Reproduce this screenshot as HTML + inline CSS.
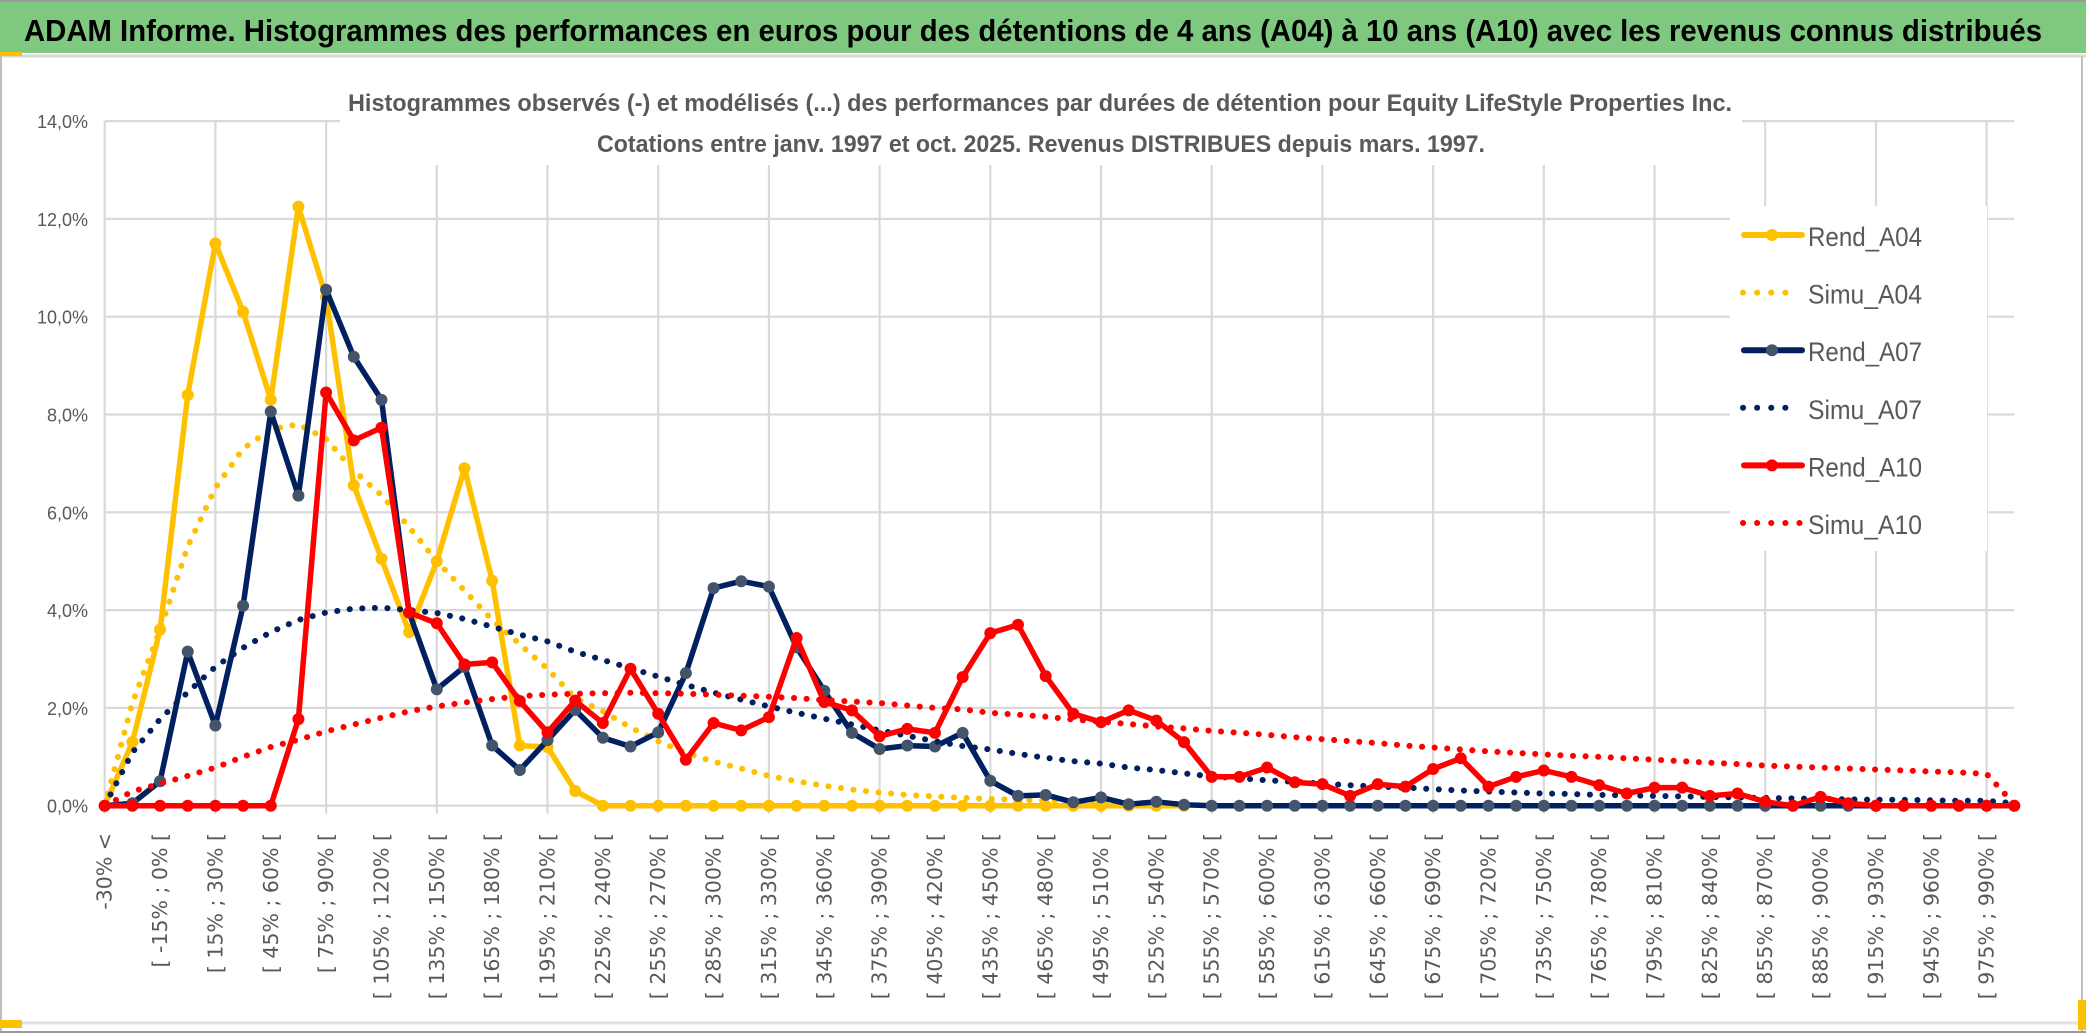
<!DOCTYPE html>
<html><head><meta charset="utf-8"><title>ADAM Informe – Histogrammes</title>
<style>
html,body{margin:0;padding:0;background:#fff;}
body{width:2086px;height:1033px;overflow:hidden;}
svg{display:block;}
</style></head>
<body>
<svg id="chart" width="2086" height="1033" viewBox="0 0 2086 1033" xmlns="http://www.w3.org/2000/svg">
  <rect x="0" y="0" width="2086" height="1033" fill="#ffffff"/>
  <rect x="0" y="2" width="2086" height="51" fill="#7EC87F"/>
  <line x1="0" y1="1" x2="2086" y2="1" stroke="#9a9a9a" stroke-width="2"/>
  <line x1="0" y1="56" x2="2086" y2="56" stroke="#d9d9d9" stroke-width="3"/>
  <text x="24" y="41" font-family="Liberation Sans, sans-serif" font-weight="bold" font-size="31" fill="#000" textLength="2018" lengthAdjust="spacingAndGlyphs">ADAM Informe. Histogrammes des performances en euros pour des détentions de 4 ans (A04) à 10 ans (A10) avec les revenus connus distribués</text>
  <rect x="0" y="52" width="22" height="4" fill="#FFC000"/>
  <line x1="1" y1="56" x2="1" y2="1033" stroke="#bfbfbf" stroke-width="2"/>
  <line x1="2082" y1="56" x2="2082" y2="1033" stroke="#bfbfbf" stroke-width="2"/>
  <line x1="0" y1="1023" x2="2086" y2="1023" stroke="#e0e0e0" stroke-width="3"/>
  <line x1="0" y1="1032" x2="2086" y2="1032" stroke="#9a9a9a" stroke-width="2"/>
  <rect x="0" y="1020" width="22" height="8" fill="#FFC000"/>
  <rect x="2078" y="1000" width="8" height="30" fill="#FFC000"/>
  <g id="grid"></g>
  <g id="yaxis"></g>
  <g id="xaxis"></g>
  <g id="series"></g>
  <rect x="340" y="60" width="1402" height="105" fill="#ffffff"/>
  <text x="348" y="111" font-family="Liberation Sans, sans-serif" font-weight="bold" font-size="24" fill="#595959" textLength="1384" lengthAdjust="spacingAndGlyphs">Histogrammes observés (-) et modélisés (...) des performances par durées de détention pour Equity LifeStyle Properties Inc.</text>
  <text x="597" y="152" font-family="Liberation Sans, sans-serif" font-weight="bold" font-size="24" fill="#595959" textLength="888" lengthAdjust="spacingAndGlyphs">Cotations entre janv. 1997 et oct. 2025. Revenus DISTRIBUES depuis mars. 1997.</text>
  <g id="legend"></g>
</svg>
<script>
const categories = ["-30% <","[ -30% ; -15% [","[ -15% ; 0% [","[ 0% ; 15% [","[ 15% ; 30% [","[ 30% ; 45% [","[ 45% ; 60% [","[ 60% ; 75% [","[ 75% ; 90% [","[ 90% ; 105% [",
"[ 105% ; 120% [","[ 120% ; 135% [","[ 135% ; 150% [","[ 150% ; 165% [","[ 165% ; 180% [","[ 180% ; 195% [","[ 195% ; 210% [","[ 210% ; 225% [","[ 225% ; 240% [","[ 240% ; 255% [",
"[ 255% ; 270% [","[ 270% ; 285% [","[ 285% ; 300% [","[ 300% ; 315% [","[ 315% ; 330% [","[ 330% ; 345% [","[ 345% ; 360% [","[ 360% ; 375% [","[ 375% ; 390% [","[ 390% ; 405% [",
"[ 405% ; 420% [","[ 420% ; 435% [","[ 435% ; 450% [","[ 450% ; 465% [","[ 465% ; 480% [","[ 480% ; 495% [","[ 495% ; 510% [","[ 510% ; 525% [","[ 525% ; 540% [","[ 540% ; 555% [",
"[ 555% ; 570% [","[ 570% ; 585% [","[ 585% ; 600% [","[ 600% ; 615% [","[ 615% ; 630% [","[ 630% ; 645% [","[ 645% ; 660% [","[ 660% ; 675% [","[ 675% ; 690% [","[ 690% ; 705% [",
"[ 705% ; 720% [","[ 720% ; 735% [","[ 735% ; 750% [","[ 750% ; 765% [","[ 765% ; 780% [","[ 780% ; 795% [","[ 795% ; 810% [","[ 810% ; 825% [","[ 825% ; 840% [","[ 840% ; 855% [",
"[ 855% ; 870% [","[ 870% ; 885% [","[ 885% ; 900% [","[ 900% ; 915% [","[ 915% ; 930% [","[ 930% ; 945% [","[ 945% ; 960% [","[ 960% ; 975% [","[ 975% ; 990% [","> 990%"];
const yTicks = [0,2,4,6,8,10,12,14];
const yTickLabels = ["0,0%","2,0%","4,0%","6,0%","8,0%","10,0%","12,0%","14,0%"];
const rendA04 = [0,1.3,3.6,8.4,11.5,10.1,8.3,12.25,10.4,6.55,5.05,3.55,5.0,6.9,4.6,1.23,1.2,0.3,0,0,0,0,0,0,0,0,0,0,0,0,0,0,0,0,0,0,0,0,0,0];
const simuA04 = [0,2.1,3.6,5.3,6.5,7.3,7.7,7.8,7.5,6.85,6.35,5.7,5.0,4.4,3.8,3.3,2.8,2.2,1.93,1.6,1.32,1.08,0.9,0.76,0.61,0.5,0.41,0.33,0.27,0.22,0.19,0.16,0.14,0.12,0.1,0.08,0.07,0.06,0.05,0.04];
const rendA07 = [0,0.05,0.5,3.15,1.64,4.09,8.06,6.34,10.55,9.18,8.3,3.95,2.38,2.84,1.23,0.73,1.34,1.96,1.39,1.21,1.5,2.71,4.45,4.59,4.48,3.24,2.35,1.49,1.16,1.23,1.21,1.49,0.51,0.2,0.22,0.07,0.17,0.03,0.08,0.02,0,0,0,0,0,0,0,0,0,0,0,0,0,0,0,0,0,0,0,0,0,0,0,0,0,0,0,0,0,0];
const simuA07 = [0,1.09,1.77,2.32,2.84,3.23,3.55,3.8,3.95,4.03,4.05,4.0,3.94,3.82,3.66,3.5,3.36,3.15,2.98,2.81,2.64,2.47,2.31,2.17,2.03,1.9,1.78,1.66,1.54,1.43,1.32,1.22,1.15,1.06,0.98,0.91,0.86,0.78,0.73,0.66,0.6,0.56,0.52,0.49,0.45,0.42,0.39,0.37,0.34,0.31,0.29,0.27,0.25,0.24,0.22,0.21,0.2,0.19,0.18,0.17,0.16,0.15,0.14,0.13,0.12,0.12,0.11,0.1,0.1,0.05];
const rendA10 = [0,0,0,0,0,0,0,1.77,8.45,7.47,7.73,3.95,3.73,2.89,2.93,2.14,1.5,2.15,1.69,2.8,1.88,0.94,1.69,1.54,1.81,3.43,2.12,1.95,1.42,1.57,1.49,2.63,3.53,3.7,2.65,1.88,1.71,1.95,1.74,1.3,0.59,0.59,0.78,0.48,0.44,0.2,0.44,0.39,0.75,0.97,0.39,0.59,0.72,0.59,0.42,0.25,0.37,0.37,0.2,0.25,0.08,0,0.18,0.05,0,0,0,0,0,0];
const simuA10 = [0,0.29,0.45,0.61,0.78,1.0,1.2,1.35,1.52,1.66,1.8,1.93,2.03,2.11,2.18,2.24,2.27,2.29,2.3,2.31,2.3,2.29,2.27,2.25,2.23,2.2,2.16,2.13,2.1,2.05,2.0,1.97,1.9,1.86,1.82,1.76,1.72,1.67,1.62,1.58,1.53,1.49,1.45,1.4,1.36,1.32,1.28,1.23,1.19,1.15,1.11,1.08,1.05,1.02,1.0,0.97,0.94,0.91,0.88,0.85,0.82,0.8,0.78,0.76,0.74,0.72,0.7,0.68,0.65,0.03];
const seriesNames = ["Rend_A04","Simu_A04","Rend_A07","Simu_A07","Rend_A10","Simu_A10"];

const NS = "http://www.w3.org/2000/svg";
const X0 = 104.7, X1 = 2014.3, Y0 = 805.7, YPER = 48.9;
function xOf(i){ return X0 + i * (X1 - X0) / (categories.length - 1); }
function yOf(v){ return Y0 - v * YPER; }
function mk(tag, attrs, parent){ const e = document.createElementNS(NS, tag); for (const k in attrs) e.setAttribute(k, attrs[k]); parent.appendChild(e); return e; }

const grid = document.getElementById('grid');
for (let k = 0; k < yTicks.length; k++) {
  const l = mk('line', {x1: X0, x2: X1, y1: yOf(yTicks[k]), y2: yOf(yTicks[k]), stroke: '#d9d9d9', 'stroke-width': 2.2}, grid);
  
  
}
for (let i = 0; i < categories.length; i += 4) {
  const l = mk('line', {x1: xOf(i), x2: xOf(i), y1: yOf(14), y2: Y0 + 8, stroke: '#d9d9d9', 'stroke-width': 2.2}, grid);
  
  
}
const yax = document.getElementById('yaxis');
for (let k = 0; k < yTicks.length; k++) {
  const t = mk('text', {x: 88, y: yOf(yTicks[k]) + 7, 'text-anchor': 'end', 'font-family': 'Liberation Sans, sans-serif', 'font-size': 18, fill: '#595959'}, yax);
  t.textContent = yTickLabels[k];
  
  
}
const xax = document.getElementById('xaxis');
for (let i = 0; i < categories.length; i += 2) {
  const x = xOf(i) + 7, y = 833;
  const t = mk('text', {x: x, y: y, 'text-anchor': 'end', transform: 'rotate(-90 ' + x + ' ' + y + ')', 'font-family': 'DejaVu Sans, sans-serif', 'font-size': 20.5, fill: '#595959'}, xax);
  t.textContent = categories[i];
  
  
}

const ser = document.getElementById('series');
function pts(arr){ return arr.map((v, i) => xOf(i).toFixed(1) + ',' + yOf(v).toFixed(1)).join(' '); }
function drawRend(arr, color, mcolor, name){
  const g = mk('g', {}, ser);
  
  
  mk('polyline', {points: pts(arr), fill: 'none', stroke: color, 'stroke-width': 5.5, 'stroke-linejoin': 'round', 'stroke-linecap': 'round'}, g);
  arr.forEach((v, i) => {
    const c = mk('circle', {cx: xOf(i), cy: yOf(v), r: 6, fill: mcolor}, g);
    
    
  });
}
function drawSimu(arr, color, name){
  const g = mk('g', {}, ser);
  
  
  mk('polyline', {points: pts(arr), fill: 'none', stroke: color, 'stroke-width': 6, 'stroke-dasharray': '0.1 12.5', 'stroke-linecap': 'round', 'stroke-linejoin': 'round'}, g);
}
drawRend(rendA04, '#FFC000', '#FFC000', 'series-rend-a04');
drawSimu(simuA04, '#FFC000', 'series-simu-a04');
drawRend(rendA07, '#002060', '#44546A', 'series-rend-a07');
drawSimu(simuA07, '#002060', 'series-simu-a07');
drawRend(rendA10, '#FF0000', '#FF0000', 'series-rend-a10');
drawSimu(simuA10, '#FF0000', 'series-simu-a10');

const leg = document.getElementById('legend');
mk('rect', {x: 1730, y: 206, width: 257, height: 345, fill: '#ffffff'}, leg);
const legColors = ['#FFC000','#FFC000','#002060','#002060','#FF0000','#FF0000'];
const legMarker = ['#FFC000','','#44546A','','#FF0000',''];
for (let k = 0; k < seriesNames.length; k++) {
  const y = 235 + k * 57.6;
  const g = mk('g', {}, leg);
  
  
  if (k % 2 === 0) {
    mk('line', {x1: 1744, x2: 1802, y1: y, y2: y, stroke: legColors[k], 'stroke-width': 6, 'stroke-linecap': 'round'}, g);
    mk('circle', {cx: 1772, cy: y, r: 6, fill: legMarker[k]}, g);
  } else {
    mk('line', {x1: 1743, x2: (k === 5 ? 1801 : 1790), y1: y, y2: y, stroke: legColors[k], 'stroke-width': 6, 'stroke-dasharray': '0.1 14', 'stroke-linecap': 'round'}, g);
  }
  const t = mk('text', {x: 1808, y: y + 11, 'font-family': 'Liberation Sans, sans-serif', 'font-size': 27, fill: '#595959', textLength: 114, lengthAdjust: 'spacingAndGlyphs'}, g);
  t.textContent = seriesNames[k];
}
</script>
</body></html>
